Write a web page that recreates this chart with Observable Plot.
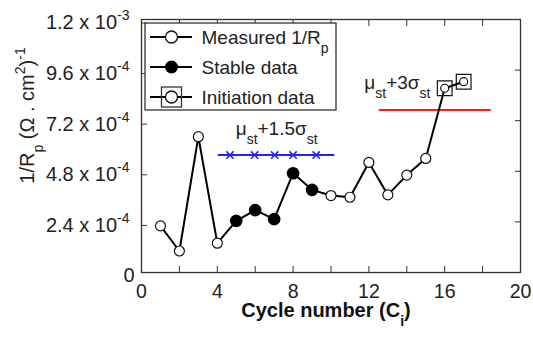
<!DOCTYPE html>
<html><head><meta charset="utf-8">
<script src="https://cdn.jsdelivr.net/npm/d3@7"></script>
<script src="https://cdn.jsdelivr.net/npm/@observablehq/plot@0.6"></script>
<style>body{margin:0;background:#fff} svg{display:block}</style>
</head><body><div id="chart"></div>
<script>
// ---- data ----
const cycles = [1,2,3,4,5,6,7,8,9,10,11,12,13,14,15,16,17];
const invRp = [2.21e-4,1.02e-4,6.44e-4,1.39e-4,2.45e-4,2.96e-4,2.53e-4,4.71e-4,3.92e-4,3.65e-4,3.57e-4,5.22e-4,3.68e-4,4.62e-4,5.41e-4,8.74e-4,9.05e-4];
const pointType = ["measured","measured","measured","measured","stable","stable","stable","stable","stable","measured","measured","measured","measured","measured","measured","initiation","initiation"];

const stableLimit = 5.57e-4;            // mu_st + 1.5 sigma_st
const stableLimitRange = [4.05, 10.2];
const stableMarkX = [4.67, 5.97, 7.03, 8.0, 9.22];
const initLimit = 7.71e-4;              // mu_st + 3 sigma_st
const initLimitRange = [12.55, 18.46];

const annotLabels = ["μ_{st}+1.5σ_{st}", "μ_{st}+3σ_{st}"];
const annotX = [4.97, 11.76];
const annotY = [6.82e-4, 9.0e-4];

const xTicks = [0,2,4,6,8,10,12,14,16,18,20];
const xTickLabels = ["0","","4","","8","","12","","16","","20"];
const yTicks = [0, 2.4e-4, 4.8e-4, 7.2e-4, 9.6e-4, 1.2e-3];
const yTickLabels = ["0","2.4 x 10^{-4}","4.8 x 10^{-4}","7.2 x 10^{-4}","9.6 x 10^{-4}","1.2 x 10^{-3}"];

const legendLabels = ["Measured 1/R_{p}", "Stable data", "Initiation data"];
const xTitle = "Cycle number (C_{i})";
const yTitle = "1/R_{p} (Ω . cm^{2})^{-1}";

// ---- build ----
const data = cycles.map((c, i) => ({x: c, y: invRp[i], type: pointType[i]}));
const annots = annotLabels.map((t, i) => ({text: t, x: annotX[i], y: annotY[i]}));
const blue = "#2323ff";
const yLabel = d => yTickLabels[yTicks.indexOf(d)];

const chart = Plot.plot({
  width: 533, height: 338,
  marginLeft: 141, marginRight: 13, marginTop: 19, marginBottom: 66,
  style: {fontFamily: "Liberation Sans, Arial, sans-serif", fontSize: "19px", background: "white", overflow: "visible"},
  x: {domain: [0, 20]},
  y: {domain: [0, 1.2e-3]},
  marks: [
    Plot.axisX({ticks: xTicks, tickSize: -6, tickPadding: 18, fontSize: 19.5, tickFormat: d => xTickLabels[xTicks.indexOf(d)], label: null, stroke: "#333", fill: "#222"}),
    Plot.axisX({anchor: "top", ticks: xTicks, tickSize: -6, tickFormat: () => "", label: null, stroke: "#333"}),
    Plot.axisY({ticks: yTicks.slice(1), tickSize: -6, tickPadding: 18, dy: 3.5, fontSize: 20, tickFormat: yLabel, label: null, stroke: "#333", fill: "#222"}),
    Plot.axisY({ticks: yTicks.slice(0, 1), tickSize: 0, tickPadding: 7, dy: 3.5, fontSize: 20, tickFormat: yLabel, label: null, fill: "#222"}),
    Plot.axisY({anchor: "right", ticks: yTicks, tickSize: -6, tickFormat: () => "", label: null, stroke: "#333"}),
    Plot.frame({stroke: "#333", strokeWidth: 1.3}),
    Plot.ruleY([stableLimit], {x1: stableLimitRange[0], x2: stableLimitRange[1], stroke: blue, strokeWidth: 2}),
    Plot.dot(stableMarkX, {x: d => d, y: () => stableLimit, symbol: "times", r: 3.4, stroke: blue, strokeWidth: 1.6}),
    Plot.ruleY([initLimit], {x1: initLimitRange[0], x2: initLimitRange[1], stroke: "#ff1a1a", strokeWidth: 2}),
    Plot.line(data, {x: "x", y: "y", stroke: "black", strokeWidth: 2}),
    Plot.dot(data.filter(d => d.type === "measured"), {x: "x", y: "y", r: 5, fill: "white", stroke: "#111", strokeWidth: 1.2}),
    Plot.dot(data.filter(d => d.type === "stable"), {x: "x", y: "y", r: 6.3, fill: "black"}),
    Plot.dot(data.filter(d => d.type === "initiation"), {x: "x", y: "y", symbol: "square", r: 8.3, fill: "none", stroke: "#111", strokeWidth: 1.2}),
    Plot.dot(data.filter(d => d.type === "initiation"), {x: "x", y: "y", r: 4, fill: "white", stroke: "#111", strokeWidth: 1.2}),
    Plot.text(annots, {x: "x", y: "y", text: "text", textAnchor: "start", fontSize: 19, fill: "#222"}),
    Plot.text([xTitle], {text: d => d, frameAnchor: "bottom", textAnchor: "middle", dy: 44, dx: -5, fontWeight: "bold", fontSize: 20, fill: "#111"}),
    Plot.text([yTitle], {text: d => d, frameAnchor: "left", textAnchor: "middle", rotate: -90, dx: -113.5, dy: -30.5, fontSize: 20, fill: "#222"})
  ]
});
document.getElementById("chart").appendChild(chart);

// ---- legend ----
const svg = d3.select(chart);
const lg = svg.append("g").attr("font-family", "Liberation Sans, Arial, sans-serif").attr("font-size", 19);
lg.append("rect").attr("x", 145).attr("y", 23).attr("width", 191).attr("height", 87)
  .attr("fill", "white").attr("stroke", "#222").attr("stroke-width", 1.2);
legendLabels.forEach((label, i) => {
  const y = 37 + i * 30;
  const g = lg.append("g");
  g.append("line").attr("x1", 150).attr("x2", 192).attr("y1", y).attr("y2", y).attr("stroke", "black").attr("stroke-width", 2);
  if (i === 0) g.append("circle").attr("cx", 171.5).attr("cy", y).attr("r", 6).attr("fill", "white").attr("stroke", "#111").attr("stroke-width", 1.3);
  if (i === 1) g.append("circle").attr("cx", 171.5).attr("cy", y).attr("r", 6.5).attr("fill", "black");
  if (i === 2) {
    g.append("rect").attr("x", 161.5).attr("y", y - 10).attr("width", 20).attr("height", 20).attr("fill", "none").attr("stroke", "#333").attr("stroke-width", 1.3);
    g.append("circle").attr("cx", 171.5).attr("cy", y).attr("r", 6).attr("fill", "white").attr("stroke", "#111").attr("stroke-width", 1.3);
  }
  g.append("text").attr("x", 201.5).attr("y", y).attr("dy", "0.35em").attr("text-anchor", "start").attr("fill", "#222").text(label);
});

// ---- rich text: _{sub} and ^{sup} ----
svg.selectAll("text").each(function() {
  const t = this.textContent;
  if (!/[_^]\{/.test(t)) return;
  const el = d3.select(this);
  el.text(null);
  const re = /([_^])\{([^}]*)\}/g;
  let last = 0, m, pending = 0;
  const add = (s, shift, size) => {
    const ts = el.append("tspan").text(s);
    const dy = shift + pending;
    if (dy) ts.attr("dy", dy);
    if (size) ts.attr("font-size", size);
    pending = -shift;
  };
  while ((m = re.exec(t))) {
    if (m.index > last) add(t.slice(last, m.index), 0, null);
    add(m[2], m[1] === "_" ? 9 : -9, 14);
    last = re.lastIndex;
  }
  if (last < t.length) add(t.slice(last), 0, null);
});
</script></body></html>
